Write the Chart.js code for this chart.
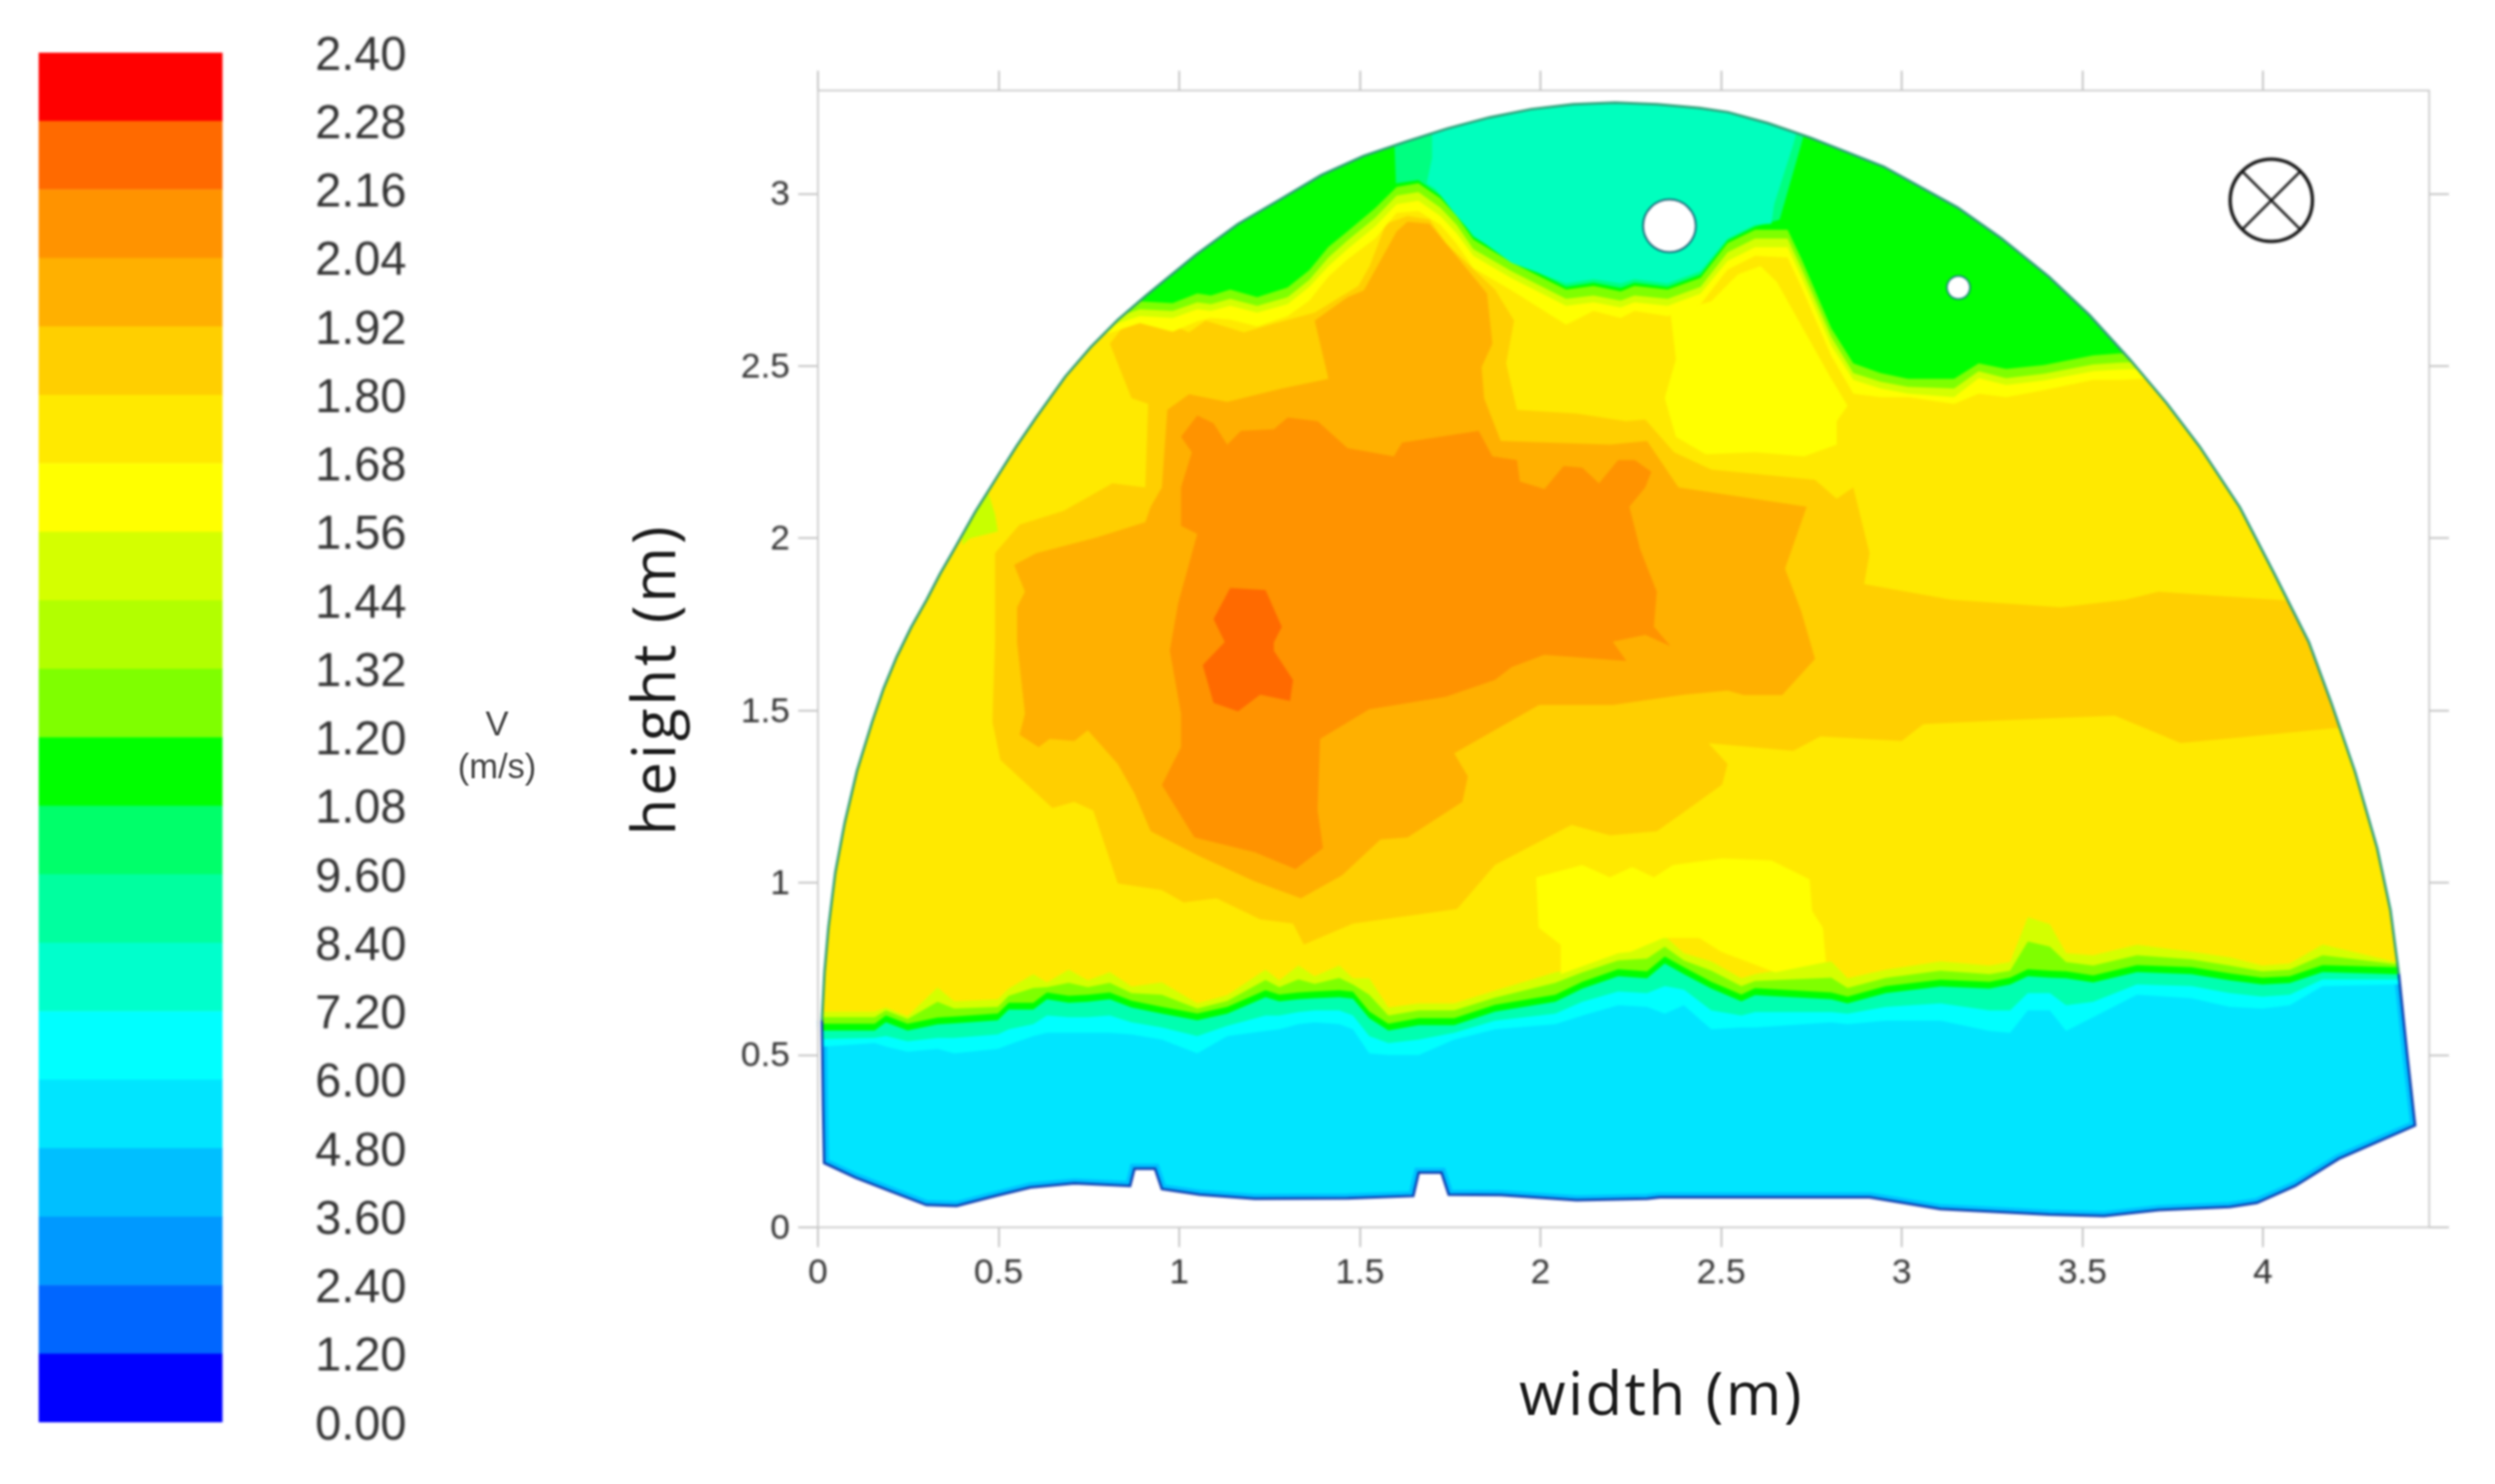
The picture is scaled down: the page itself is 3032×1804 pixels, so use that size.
<!DOCTYPE html>
<html lang="en">
<head>
  <meta charset="UTF-8">
  <title>Velocity contour map</title>
  <script src="https://cdn.jsdelivr.net/npm/chart.js"></script>
  <style>
    html, body { margin: 0; background: #fff; width: 3032px; height: 1804px; overflow: hidden; }
    canvas { position: absolute; top: 0; filter: blur(1.4px); }
    #legendChart { left: 0; }
    #fieldChart { left: 700px; }
    .label { position: absolute; white-space: nowrap; line-height: 1; filter: blur(0.8px); }
    .axis { font-family: "Open Sans", sans-serif; font-size: 73px; letter-spacing: 2.9px; color: #1a1a1a; }
    .unit { font-family: "Liberation Sans", sans-serif; font-size: 42px; color: #444; transform: translate(-50%, -50%); left: 604px; }
  </style>
</head>
<body>
  <canvas id="legendChart" width="700" height="1804"></canvas>
  <canvas id="fieldChart" width="2332" height="1804"></canvas>
  <div class="label unit" style="top:880px">V</div>
  <div class="label unit" style="top:932px">(m/s)</div>
  <div class="label axis" style="left:2019px;top:1655px;transform:translateX(-50%)">width (m)</div>
  <div class="label axis" style="left:792px;top:826px;letter-spacing:3.5px;transform:translate(-50%,-50%) rotate(-90deg)">height (m)</div>

  <script>
    // Colour bar, bottom to top
    const legendLabels = ['0.00', '1.20', '2.40', '3.60', '4.80', '6.00', '7.20', '8.40', '9.60', '1.08', '1.20',
      '1.32', '1.44', '1.56', '1.68', '1.80', '1.92', '2.04', '2.16', '2.28', '2.40'];
    const legendColors = ['#0000FF', '#0066FF', '#0099FF', '#00BFFF', '#00E5FF', '#00FFFF', '#00FFCC', '#00FF9F', '#00FF6A', '#00FF00',
      '#7FFF00', '#B2FF00', '#D4FF00', '#FFFF00', '#FFE900', '#FFCF00', '#FFB000', '#FF9300', '#FF6A00', '#FF0000'];

    const xTicks = [0, 0.5, 1, 1.5, 2, 2.5, 3, 3.5, 4];
    const yTicks = [0, 0.5, 1, 1.5, 2, 2.5, 3];

    // Outline of the cross section (width, height in m)
    const archEdge = [[0.011,0.601],[0.018,0.74],[0.029,0.87],[0.048,1.03],[0.074,1.174],[0.108,1.325],[0.15,1.467],[0.182,1.565],
      [0.218,1.656],[0.258,1.742],[0.301,1.822],[0.338,1.897],[0.377,1.968],[0.436,2.078],[0.498,2.182],[0.55,2.268],[0.604,2.351],
      [0.685,2.47],[0.755,2.555],[0.83,2.634],[0.907,2.704],[1.046,2.823],[1.162,2.912],[1.278,2.983],[1.394,3.055],[1.51,3.11],
      [1.626,3.151],[1.743,3.19],[1.859,3.222],[1.975,3.246],[2.09,3.26],[2.207,3.265],[2.323,3.26],[2.44,3.249],[2.519,3.237],
      [2.63,3.205],[2.747,3.163],[2.95,3.079],[3.155,2.96],[3.276,2.871],[3.408,2.759],[3.519,2.649],[3.631,2.52],[3.733,2.393],[3.825,2.266],
      [3.936,2.09],[4.03,1.9],[4.127,1.699],[4.19,1.52],[4.255,1.322],[4.316,1.101],[4.353,0.92],[4.376,0.736]];
    const bottomEdge = [[4.376,0.736],[4.399,0.504],[4.421,0.296],[4.21,0.199],[4.089,0.12],[3.983,0.071],[3.908,0.059],[3.711,0.05],
      [3.56,0.033],[3.409,0.037],[3.107,0.053],[2.911,0.087],[2.33,0.087],[2.295,0.083],[2.1,0.079],[1.89,0.094],[1.746,0.095],
      [1.726,0.159],[1.663,0.159],[1.648,0.091],[1.466,0.084],[1.209,0.083],[1.057,0.095],[0.952,0.111],[0.933,0.17],[0.876,0.17],
      [0.864,0.12],[0.71,0.128],[0.588,0.116],[0.483,0.089],[0.384,0.062],[0.3,0.065],[0.195,0.107],[0.104,0.144],[0.017,0.187],
      [0.014,0.357],[0.011,0.601]];
    const plotFrame = [[0,0.6],[0,3.3],[4.46,3.3],[4.46,0],[0,0],[0,0.6]];

    // Contour lines of the layer near the floor: one width list, one height list per band
    const floorX = [-0.05,0.157,0.188,0.248,0.331,0.377,0.498,0.528,0.596,0.634,
      0.694,0.747,0.808,0.868,0.952,1.05,1.133,1.239,1.277,1.33,
      1.375,1.443,1.481,1.526,1.579,1.663,1.761,1.874,2.041,2.116,
      2.215,2.295,2.344,2.397,2.473,2.556,2.594,2.805,2.85,2.956,
      3.107,3.243,3.3,3.349,3.41,3.455,3.53,3.651,3.802,3.908,
      3.998,4.074,4.165,4.361,4.5];
    const floorCyan = [0.52,0.535,0.525,0.51,0.518,0.505,0.518,0.53,0.555,0.565,
      0.565,0.565,0.565,0.56,0.545,0.505,0.555,0.57,0.575,0.59,
      0.595,0.59,0.575,0.505,0.5,0.5,0.545,0.575,0.59,0.615,
      0.645,0.64,0.62,0.645,0.575,0.58,0.58,0.595,0.59,0.6,
      0.6,0.57,0.565,0.63,0.63,0.57,0.61,0.675,0.665,0.64,
      0.635,0.645,0.7,0.705,0.71];
    const floorTeal = [0.545,0.55,0.555,0.54,0.55,0.55,0.56,0.575,0.59,0.615,
      0.61,0.61,0.615,0.595,0.58,0.555,0.585,0.615,0.615,0.625,
      0.63,0.63,0.615,0.555,0.535,0.545,0.565,0.6,0.62,0.655,
      0.685,0.68,0.7,0.69,0.63,0.615,0.625,0.625,0.62,0.64,
      0.65,0.63,0.63,0.68,0.68,0.645,0.655,0.705,0.7,0.68,
      0.67,0.675,0.72,0.72,0.72];
    const floorGreen = [0.571,0.571,0.595,0.571,0.589,0.592,0.601,0.632,0.632,0.662,
      0.652,0.655,0.662,0.638,0.62,0.601,0.62,0.668,0.656,0.662,
      0.665,0.668,0.664,0.607,0.571,0.587,0.587,0.626,0.655,0.693,
      0.729,0.723,0.766,0.735,0.693,0.656,0.674,0.662,0.65,0.68,
      0.699,0.693,0.705,0.729,0.725,0.723,0.711,0.741,0.735,0.717,
      0.705,0.709,0.741,0.735,0.735];
    const floorLime = [0.591,0.591,0.615,0.591,0.609,0.612,0.621,0.652,0.652,0.682,
      0.672,0.675,0.682,0.658,0.64,0.621,0.64,0.688,0.676,0.682,
      0.685,0.688,0.684,0.627,0.591,0.607,0.607,0.646,0.675,0.713,
      0.749,0.743,0.786,0.755,0.713,0.676,0.694,0.682,0.67,0.7,
      0.719,0.713,0.725,0.749,0.745,0.743,0.731,0.761,0.755,0.737,
      0.725,0.729,0.761,0.755,0.755];
    const floorPale = [0.61,0.61,0.63,0.605,0.655,0.635,0.64,0.672,0.695,0.697,
      0.71,0.697,0.71,0.68,0.675,0.635,0.657,0.718,0.697,0.72,
      0.707,0.724,0.705,0.675,0.615,0.63,0.63,0.667,0.71,0.74,
      0.775,0.78,0.815,0.775,0.745,0.7,0.715,0.725,0.695,0.724,
      0.745,0.735,0.745,0.83,0.815,0.77,0.76,0.79,0.778,0.76,
      0.743,0.748,0.79,0.765,0.765];
    const floorYellow = [0.626,0.626,0.638,0.613,0.696,0.656,0.662,0.693,0.735,0.711,
      0.748,0.717,0.741,0.699,0.711,0.65,0.674,0.748,0.717,0.76,
      0.729,0.76,0.723,0.723,0.638,0.65,0.65,0.687,0.74,0.76,
      0.796,0.821,0.845,0.796,0.772,0.723,0.735,0.772,0.723,0.748,
      0.772,0.76,0.77,0.9,0.88,0.796,0.79,0.82,0.8,0.784,
      0.76,0.766,0.821,0.772,0.772];

    // Contour lines under the slow region at the crown
    const capX = [0.7,0.891,0.982,1.05,1.088,1.141,1.216,1.3,1.36,1.413,1.466,1.542,1.602,1.662,1.723,1.768,1.814,1.92,2.071,2.147,
      2.222,2.26,2.352,2.443,2.518,2.594,2.684,2.722,2.805,2.866,2.941,3.017,3.145,3.213,3.289,3.394,3.53,3.606,3.8];
    const capGreen = [2.62,2.688,2.683,2.711,2.705,2.722,2.7,2.728,2.778,2.846,2.891,2.958,3.02,3.031,2.987,2.936,2.868,2.801,2.722,2.733,
      2.717,2.733,2.722,2.756,2.857,2.896,2.896,2.812,2.61,2.508,2.48,2.463,2.463,2.508,2.492,2.503,2.531,2.537,2.54];
    const capLime = [2.6,2.665,2.66,2.685,2.68,2.695,2.675,2.7,2.75,2.815,2.865,2.93,2.995,3.005,2.96,2.91,2.84,2.775,2.695,2.705,
      2.69,2.705,2.695,2.73,2.83,2.87,2.87,2.785,2.585,2.48,2.455,2.44,2.435,2.485,2.465,2.478,2.505,2.51,2.515];
    const capPale = [2.58,2.645,2.64,2.665,2.66,2.675,2.655,2.68,2.73,2.79,2.84,2.905,2.97,2.98,2.935,2.885,2.82,2.755,2.675,2.685,
      2.67,2.685,2.675,2.71,2.805,2.845,2.845,2.76,2.56,2.46,2.435,2.42,2.41,2.465,2.445,2.458,2.485,2.49,2.495];
    const capYellow = [2.56,2.625,2.6,2.63,2.64,2.635,2.615,2.645,2.69,2.76,2.81,2.87,2.945,2.95,2.91,2.855,2.785,2.72,2.62,2.66,
      2.64,2.66,2.645,2.68,2.78,2.82,2.815,2.73,2.53,2.42,2.41,2.41,2.39,2.42,2.41,2.43,2.46,2.46,2.47];

    // Closed contours of the jet core, outermost first
    const region192 = [[0.808,2.565],[0.876,2.655],[0.952,2.632],[1.027,2.598],[1.073,2.632],[1.179,2.598],[1.254,2.621],[1.375,2.655],
      [1.496,2.733],[1.527,2.79],[1.572,2.913],[1.632,2.936],[1.693,2.925],[1.738,2.857],[1.874,2.722],[1.927,2.632],[1.905,2.508],
      [1.935,2.373],[2.101,2.362],[2.237,2.34],[2.29,2.345],[2.37,2.25],[2.473,2.2],[2.76,2.17],[2.82,2.115],[2.866,2.148],[2.911,1.957],
      [2.896,1.867],[3.137,1.822],[3.44,1.8],[3.62,1.822],[3.71,1.845],[3.863,1.834],[4.036,1.822],[4.3,1.8],[4.3,1.449],[4.195,1.449],
      [3.953,1.424],[3.772,1.406],[3.59,1.485],[3.3,1.473],[3.06,1.461],[3.0,1.412],[2.775,1.425],[2.7,1.383],[2.465,1.405],[2.518,1.345],
      [2.503,1.285],[2.397,1.205],[2.322,1.15],[2.192,1.138],[2.086,1.168],[1.874,1.052],[1.769,0.924],[1.481,0.882],[1.345,0.821],
      [1.315,0.882],[1.224,0.894],[1.103,0.955],[1.012,0.943],[0.952,0.979],[0.83,0.998],[0.762,1.21],[0.709,1.235],[0.649,1.217],
      [0.505,1.357],[0.483,1.467],[0.49,1.699],[0.49,1.957],[0.558,2.04],[0.68,2.08],[0.815,2.16],[0.906,2.148],[0.914,2.39],[0.868,2.407]];
    const region204 = [[1.632,2.919],[1.693,2.913],[1.738,2.857],[1.852,2.711],[1.867,2.565],[1.837,2.497],[1.844,2.407],[1.89,2.283],
      [2.192,2.272],[2.295,2.283],[2.382,2.148],[2.737,2.092],[2.677,1.912],[2.722,1.788],[2.76,1.65],[2.669,1.545],[2.563,1.545],
      [2.518,1.558],[2.397,1.546],[2.2,1.516],[1.996,1.516],[1.761,1.376],[1.799,1.309],[1.784,1.235],[1.632,1.132],[1.557,1.126],
      [1.451,1.022],[1.337,0.955],[1.209,1.004],[1.057,1.077],[0.921,1.15],[0.876,1.26],[0.83,1.345],[0.747,1.443],[0.71,1.412],
      [0.641,1.418],[0.611,1.394],[0.558,1.43],[0.573,1.491],[0.551,1.699],[0.551,1.8],[0.573,1.845],[0.543,1.923],[0.604,1.957],
      [0.77,2.002],[0.906,2.047],[0.921,2.092],[0.952,2.148],[0.967,2.373],[1.027,2.418],[1.133,2.396],[1.284,2.435],[1.413,2.463],
      [1.375,2.632],[1.466,2.7],[1.511,2.72],[1.602,2.891]];
    const region216 = [[1.005,2.295],[1.05,2.357],[1.095,2.334],[1.133,2.272],[1.171,2.312],[1.262,2.317],[1.3,2.351],[1.383,2.34],
      [1.466,2.262],[1.594,2.238],[1.617,2.278],[1.829,2.312],[1.867,2.238],[1.935,2.227],[1.943,2.165],[2.011,2.143],[2.064,2.21],
      [2.116,2.205],[2.162,2.16],[2.215,2.227],[2.261,2.227],[2.307,2.193],[2.29,2.148],[2.246,2.092],[2.276,1.968],[2.322,1.845],
      [2.314,1.744],[2.36,1.687],[2.29,1.72],[2.2,1.7],[2.238,1.644],[2.01,1.662],[1.92,1.626],[1.874,1.589],[1.738,1.54],[1.526,1.504],
      [1.39,1.418],[1.383,1.211],[1.398,1.101],[1.322,1.04],[1.209,1.089],[1.042,1.132],[0.952,1.284],[1.005,1.394],[1.005,1.491],
      [0.974,1.674],[0.997,1.811],[1.05,2.013],[1.005,2.036],[1.005,2.148],[1.035,2.25]];
    const region228 = [[1.141,1.856],[1.239,1.85],[1.284,1.743],[1.262,1.698],[1.262,1.674],[1.315,1.589],[1.307,1.528],[1.224,1.546],
      [1.163,1.498],[1.095,1.522],[1.065,1.632],[1.126,1.699],[1.095,1.766]];

    // Patches of the 1.68 band and the slow pocket on the left wall
    const patchLower = [[1.988,1.016],[2.116,1.052],[2.192,1.016],[2.254,1.046],[2.314,1.016],[2.367,1.052],[2.503,1.071],[2.639,1.065],
      [2.745,1.01],[2.752,0.918],[2.782,0.869],[2.79,0.77],[2.65,0.74],[2.5,0.8],[2.44,0.84],[2.34,0.84],[2.25,0.8],[2.215,0.796],
      [2.056,0.735],[2.056,0.82],[1.995,0.87]];
    const patchUpper = [[2.36,2.654],[2.375,2.52],[2.344,2.407],[2.375,2.295],[2.458,2.244],[2.594,2.25],[2.73,2.238],[2.82,2.272],
      [2.82,2.34],[2.85,2.385],[2.805,2.463],[2.654,2.745],[2.609,2.79],[2.548,2.767],[2.526,2.745],[2.473,2.688]];
    const wallPocket = [[0.4,1.98],[0.42,2.0],[0.498,2.02],[0.49,2.07],[0.46,2.17],[0.4,2.2]];

    // Slow core at the crown
    const crownOuter = [[1.59,3.3],[1.6,3.03],[1.662,3.04],[1.723,2.995],[1.768,2.945],[1.814,2.875],[1.92,2.81],[2.071,2.73],[2.147,2.742],
      [2.222,2.727],[2.26,2.742],[2.352,2.73],[2.443,2.765],[2.518,2.865],[2.594,2.905],[2.662,2.925],[2.722,3.144],[2.76,3.3]];
    const crownInner = [[1.7,3.3],[1.7,3.105],[1.685,3.03],[1.708,3.015],[1.761,2.945],[1.814,2.88],[1.92,2.8],[2.071,2.74],[2.147,2.752],
      [2.222,2.74],[2.26,2.752],[2.352,2.74],[2.443,2.775],[2.518,2.87],[2.594,2.91],[2.639,2.913],[2.647,2.97],[2.7,3.144],[2.74,3.3]];

    const bigHole = [[2.357, 2.907]];
    const smallHole = [[3.157, 2.728]];
    const flowSymbol = [[4.023, 2.981]];

    const toPoints = list => list.map(([x, y]) => ({ x, y }));

    // Polygon above a contour line, closed above the top of the plot (the mask trims it)
    function above(xs, ys) {
      const line = xs.map((x, i) => [x, ys[i]]);
      return [...line, [xs[xs.length - 1], 3.4], [xs[0], 3.4]];
    }

    function area(label, color, list) {
      // borderDash only forces the plain path drawing, the outline itself has no width
      return { label, data: toPoints(list), showLine: true, fill: 'shape', backgroundColor: color, borderWidth: 0, borderDash: [1, 0], pointRadius: 0 };
    }

    function stroke(label, color, width, list) {
      return { label, data: toPoints(list), showLine: true, fill: false, borderColor: color, borderWidth: width, pointRadius: 0, clip: false };
    }

    function marker(label, list, style, radius, fillColor, lineColor, lineWidth) {
      return { label, data: toPoints(list), showLine: false, pointStyle: style, pointRadius: radius, backgroundColor: fillColor, borderColor: lineColor, pointBorderWidth: lineWidth, clip: false };
    }

    const outline = [...archEdge, ...bottomEdge];

    // White sheet with the cross section cut out: frame one way round, outline the other
    const outsideMask = [...plotFrame, ...[...outline].reverse(), [0, 0.6]];

    // Painted in this order, each layer over the previous one
    const layers = [
      area('4.80', '#00E5FF', outline),
      stroke('floor 3.60', '#00BFFF', 12, bottomEdge),
      area('6.00', '#00FFFF', above(floorX, floorCyan)),
      area('8.40', '#00FFB0', above(floorX, floorTeal)),
      area('1.08', '#00FF00', above(floorX, floorGreen)),
      area('1.20', '#7FFF00', above(floorX, floorLime)),
      area('1.44', '#D4FF00', above(floorX, floorPale)),
      area('1.68', '#FFE900', above(floorX, floorYellow)),
      area('pocket', '#C8FF00', wallPocket),
      area('1.80', '#FFCF00', region192),
      area('1.92', '#FFB000', region204),
      area('2.04', '#FF9300', region216),
      area('2.16', '#FF6A00', region228),
      area('1.56 lower', '#FFFF00', patchLower),
      area('1.56 upper', '#FFFF00', patchUpper),
      area('cap 1.56', '#FFFF00', above(capX, capYellow)),
      area('cap 1.44', '#D4FF00', above(capX, capPale)),
      area('cap 1.20', '#7FFF00', above(capX, capLime)),
      area('cap 1.08', '#00FF00', above(capX, capGreen)),
      area('crown 9.60', '#00FF80', crownOuter),
      area('crown 7.20', '#00FFBE', crownInner),
      area('outside', '#FFFFFF', outsideMask),
      stroke('floor edge', '#0A3CB0', 3, bottomEdge),
      stroke('arch edge', '#2E9E78', 3, archEdge),
      stroke('frame', '#C8C8C8', 2, plotFrame),
      marker('big hole', bigHole, 'circle', 32, '#FFFFFF', '#12506A', 2),
      marker('small hole', smallHole, 'circle', 14, '#FFFFFF', '#12807A', 2),
      marker('flow circle', flowSymbol, 'circle', 50, 'rgba(0,0,0,0)', '#111', 4),
      marker('flow cross', flowSymbol, 'crossRot', 50, 'rgba(0,0,0,0)', '#111', 3)
    ];

    // Chart.js paints the highest order first
    layers.forEach((d, i) => { d.order = layers.length - i; });

    const tickFont = { family: '"Liberation Sans", Arial, sans-serif', size: 43 };
    const gridLook = { drawOnChartArea: false, color: '#BDBDBD', tickColor: '#BDBDBD', lineWidth: 2, tickLength: 24 };

    function fixedSize(prop, size) {
      return scale => { scale[prop] = size; };
    }

    function drawField() {
      new Chart(document.getElementById('fieldChart').getContext('2d'), {
        type: 'scatter',
        data: { datasets: layers },
        options: {
          responsive: false,
          animation: false,
          layout: { padding: { top: 86, right: 40, bottom: 0, left: 0 } },
          plugins: { legend: { display: false }, tooltip: { enabled: false } },
          scales: {
            x: {
              type: 'linear', position: 'bottom', min: 0, max: 4.46,
              afterFit: fixedSize('height', 312),
              grid: gridLook, border: { display: false },
              afterBuildTicks: scale => { scale.ticks = xTicks.map(value => ({ value })); },
              ticks: { font: tickFont, color: '#333', padding: 6, maxRotation: 0, callback: v => String(v) }
            },
            y: {
              type: 'linear', position: 'left', min: 0, max: 3.3,
              afterFit: fixedSize('width', 294),
              grid: gridLook, border: { display: false },
              afterBuildTicks: scale => { scale.ticks = yTicks.map(value => ({ value })); },
              ticks: { font: tickFont, color: '#333', padding: 10, labelOffset: 2, callback: v => String(v) }
            },
            x2: {
              type: 'linear', position: 'top', min: 0, max: 4.46,
              afterFit: fixedSize('height', 24),
              grid: gridLook, border: { display: false },
              afterBuildTicks: scale => { scale.ticks = xTicks.map(value => ({ value })); },
              ticks: { display: false }
            },
            y2: {
              type: 'linear', position: 'right', min: 0, max: 3.3,
              afterFit: fixedSize('width', 40),
              grid: gridLook, border: { display: false },
              afterBuildTicks: scale => { scale.ticks = yTicks.map(value => ({ value })); },
              ticks: { display: false }
            }
          }
        }
      });
    }

    function drawLegend() {
      new Chart(document.getElementById('legendChart').getContext('2d'), {
        type: 'bar',
        data: {
          labels: ['V'],
          datasets: legendColors.map((color, i) => ({
            label: legendLabels[i],
            data: [[i, i + 1]],
            backgroundColor: color,
            barPercentage: 1,
            categoryPercentage: 1,
            grouped: false
          }))
        },
        options: {
          responsive: false,
          animation: false,
          layout: { padding: { top: 64, right: 206, bottom: 75, left: 47 } },
          plugins: { legend: { display: false }, tooltip: { enabled: false } },
          scales: {
            x: { display: false },
            y: {
              position: 'right', min: 0, max: 20,
              afterFit: scale => { scale.paddingTop = 0; scale.paddingBottom = 0; },
              grid: { display: false }, border: { display: false },
              ticks: {
                stepSize: 1, autoSkip: false, padding: 115, crossAlign: 'far', labelOffset: 5,
                font: { family: '"Liberation Sans", Arial, sans-serif', size: 57 }, color: '#333',
                callback: v => legendLabels[v]
              }
            }
          }
        }
      });
    }

    drawLegend();
    drawField();
  </script>
</body>
</html>
